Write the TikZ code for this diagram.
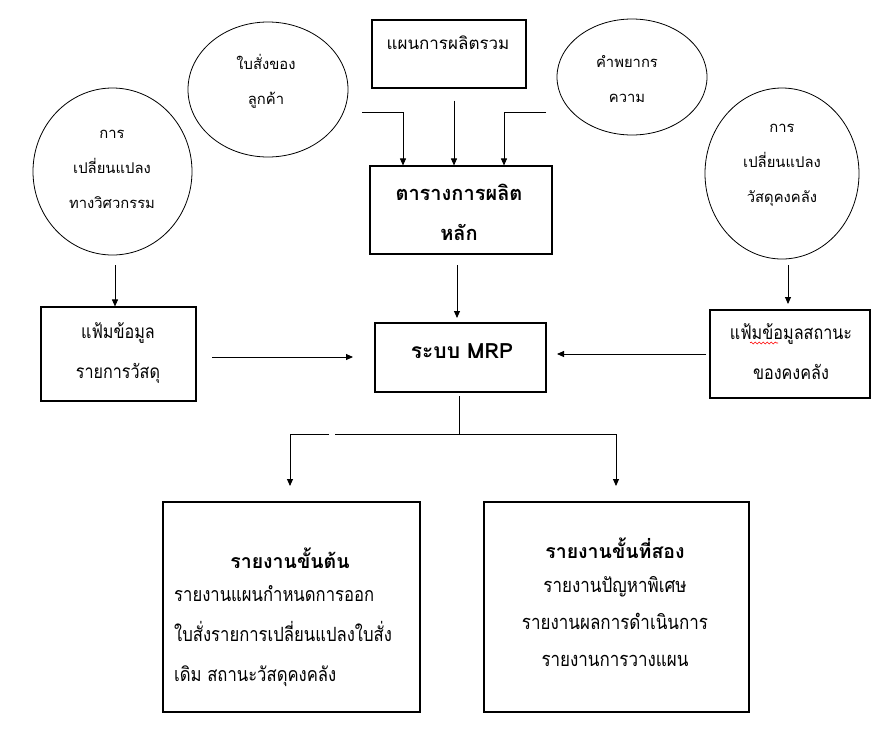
\documentclass[tikz,border=0pt]{standalone}
\usepackage{fontspec}
\newfontfamily\thai[Script=Thai]{Loma}
\newfontfamily\thaic[Script=Thai,FakeStretch=0.85]{Loma}
\usetikzlibrary{shapes.geometric,arrows.meta,decorations.pathmorphing}
\tikzset{
  oval/.style={draw=black, line width=0.8pt, ellipse, inner sep=0pt},
  box/.style={draw=black, line width=1.1pt, rectangle, inner sep=0pt},
  txt/.style={inner sep=0pt, align=center, text=black},
  ctxt/.style={txt, font=\thai\fontsize{14.8}{35}\selectfont},
  mtxt/.style={txt, font=\thaic\fontsize{19}{40}\selectfont},
  rtxt/.style={txt, font=\thaic\fontsize{19.6}{40}\selectfont},
  btxt/.style={txt, font=\thai\bfseries\fontsize{19.5}{40}\selectfont},
  arr/.style={line width=0.9pt, -{Triangle[width=6pt,length=7pt]}},
  ln/.style={line width=0.9pt}
}
\begin{document}
\begin{tikzpicture}[x=1pt,y=-1pt]
\useasboundingbox[fill=white] (0,0) rectangle (887,740);
% shapes
\node[oval, minimum width=159pt, minimum height=167pt] (eng) at (112.5,171.5) {};
\node[oval, minimum width=160pt, minimum height=135pt] (ord) at (268,89.5) {};
\node[box, minimum width=154pt, minimum height=68pt] (plan) at (449,54) {};
\node[oval, minimum width=150pt, minimum height=116pt] (fc) at (632,77) {};
\node[oval, minimum width=154pt, minimum height=171pt] (invc) at (782,173.5) {};
\node[box, minimum width=182pt, minimum height=88pt] (mps) at (461,210) {};
\node[box, minimum width=155pt, minimum height=94pt] (bom) at (118.5,354) {};
\node[box, minimum width=171pt, minimum height=69pt] (mrp) at (460.5,357.5) {};
\node[box, minimum width=160pt, minimum height=88pt] (inv) at (790,354) {};
\node[box, minimum width=257pt, minimum height=210pt] (rep1) at (291.5,607) {};
\node[box, minimum width=265pt, minimum height=210pt] (rep2) at (616.5,607) {};
% texts
\node[ctxt] (engt) at (112,169) {การ\\เปลี่ยนแปลง\\ทางวิศวกรรม};
\node[ctxt] (ordt) at (266,81) {ใบสั่งของ\\ลูกค้า};
\node[ctxt, font=\thai\fontsize{17}{35}\selectfont] (plant) at (448,43) {แผนการผลิตรวม};
\node[ctxt] (fct) at (627,79) {คำพยากร\\ความ};
\node[ctxt] (invct) at (782,165) {การ\\เปลี่ยนแปลง\\วัสดุคงคลัง};
\node[btxt, font=\thai\bfseries\fontsize{20}{40}\selectfont] (mpst) at (459,212) {ตารางการผลิต\\หลัก};
\node[btxt, font=\thai\bfseries\fontsize{21}{40}\selectfont] (mrpt) at (462,351) {ระบบ MRP};
\node[mtxt] (bomt) at (118,353) {แฟ้มข้อมูล\\รายการวัสดุ};
\node[mtxt] (invt) at (791,352) {แฟ้มข้อมูลสถานะ\\ของคงคลัง};
\node[btxt] (rep1h) at (290,558) {รายงานขั้นต้น};
\node[rtxt, align=left, anchor=north west] (rep1t) at (174,585) {รายงานแผนกำหนดการออก\\ใบสั่งรายการเปลี่ยนแปลงใบสั่ง\\เดิม สถานะวัสดุคงคลัง};
\node[btxt] (rep2h) at (615,548) {รายงานขั้นที่สอง};
\node[rtxt, font=\thaic\fontsize{20}{37}\selectfont] (rep2t) at (615,622) {รายงานปัญหาพิเศษ\\รายงานผลการดำเนินการ\\รายงานการวางแผน};
% spell-check mark
\coordinate (w1) at (750,343);
\coordinate (w2) at (778,343);
\draw[red, line width=0.6pt, decorate, decoration={snake, amplitude=1pt, segment length=4pt}] (w1) -- (w2);
% connectors
\coordinate (ordout) at (362,112);
\coordinate (fcout) at (546,112);
\draw[arr] (ordout) -| ([xshift=-58pt]mps.north);
\draw[arr] ([xshift=5pt,yshift=-12pt]plan.south) -- ([xshift=-7pt]mps.north);
\draw[arr] (fcout) -| ([xshift=43pt]mps.north);
\coordinate (engout) at (115,265);
\draw[arr] (engout) -- (engout |- bom.north);
\coordinate (bomout) at (212,357);
\coordinate (mrpinl) at (353,357);
\draw[arr] (bomout) -- (mrpinl);
\coordinate (mpsout) at (457,265);
\coordinate (mpsin) at (457,318);
\draw[arr] (mpsout) -- (mpsin);
\coordinate (invout) at (706,354);
\coordinate (mrpinr) at (557,354);
\draw[arr] (invout) -- (mrpinr);
\coordinate (invcout) at (788,265);
\coordinate (invin) at (788,304);
\draw[arr] (invcout) -- (invin);
\coordinate (stem) at (459,396);
\coordinate (split) at (459,434);
\coordinate (gapL) at (329,434);
\coordinate (gapR) at (335,434);
\coordinate (rep1in) at (290,486);
\coordinate (rep2in) at (616,486);
\draw[ln] (stem) -- (split);
\draw[arr] (gapL) -| (rep1in);
\draw[arr] (gapR) -| (rep2in);
\end{tikzpicture}
\end{document}
